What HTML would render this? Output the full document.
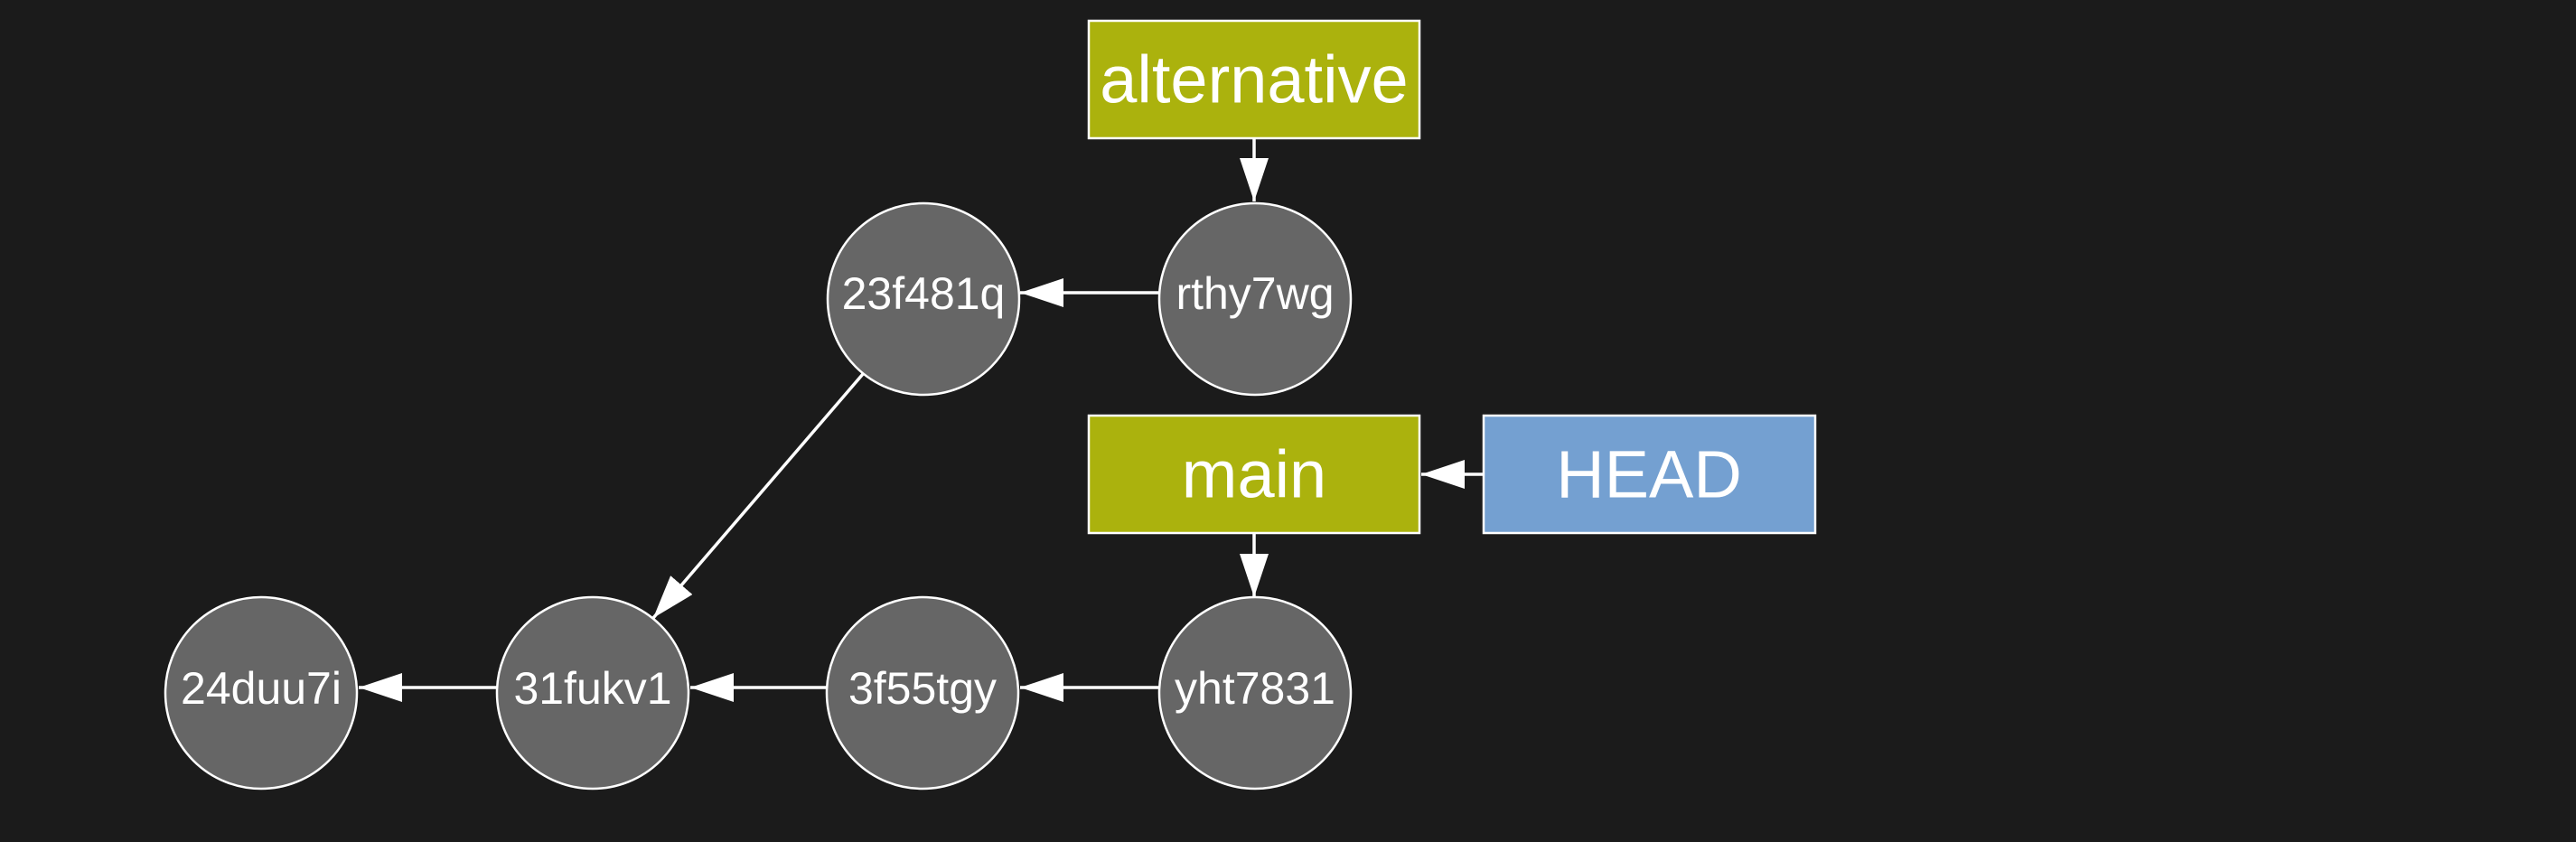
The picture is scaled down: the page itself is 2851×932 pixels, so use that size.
<!DOCTYPE html>
<html><head><meta charset="utf-8"><style>
html,body{margin:0;padding:0;background:#1b1b1b;}
svg{display:block;}
text{font-family:"Liberation Sans",Arial,sans-serif;fill:#fff;text-anchor:middle;dominant-baseline:central;}
</style></head><body>
<svg width="2851" height="932" viewBox="0 0 2851 932" xmlns="http://www.w3.org/2000/svg">
<rect width="2851" height="932" fill="#1b1b1b"/>
<defs>
<marker id="a" markerUnits="userSpaceOnUse" markerWidth="50" markerHeight="32" refX="48" refY="16" orient="auto">
<path d="M0,0 L48,16 L0,32 Z" fill="#fff"/>
</marker>
</defs>
<g stroke="#fff" stroke-width="3.5" fill="none">
<line x1="1388" y1="153" x2="1388" y2="223" marker-end="url(#a)"/>
<line x1="1388" y1="591" x2="1388" y2="661" marker-end="url(#a)"/>
<line x1="1642" y1="525" x2="1573" y2="525" marker-end="url(#a)"/>
<line x1="1283" y1="324" x2="1129" y2="324" marker-end="url(#a)"/>
<line x1="1283" y1="761" x2="1129" y2="761" marker-end="url(#a)"/>
<line x1="915" y1="761" x2="764" y2="761" marker-end="url(#a)"/>
<line x1="550" y1="761" x2="397" y2="761" marker-end="url(#a)"/>
<line x1="955" y1="414" x2="723" y2="684" marker-end="url(#a)"/>
</g>
<g fill="#666" stroke="#fff" stroke-width="2.5">
<circle cx="1389" cy="331" r="106"/>
<circle cx="1022" cy="331" r="106"/>
<circle cx="1389" cy="767" r="106"/>
<circle cx="1021" cy="767" r="106"/>
<circle cx="656" cy="767" r="106"/>
<circle cx="289" cy="767" r="106"/>
</g>
<rect x="1205" y="23" width="366" height="130" fill="#abb20d" stroke="#fff" stroke-width="2.5"/>
<rect x="1205" y="460" width="366" height="130" fill="#abb20d" stroke="#fff" stroke-width="2.5"/>
<rect x="1642" y="460" width="367" height="130" fill="#74a0d1" stroke="#fff" stroke-width="2.5"/>
<text x="1388" y="88" font-size="74">alternative</text>
<text x="1388" y="525" font-size="74">main</text>
<text x="1825" y="525" font-size="74">HEAD</text>
<g font-size="50">
<text x="1389" y="325">rthy7wg</text>
<text x="1022" y="325">23f481q</text>
<text x="1389" y="762">yht7831</text>
<text x="1021" y="762">3f55tgy</text>
<text x="656" y="762">31fukv1</text>
<text x="289" y="762">24duu7i</text>
</g>
</svg>
</body></html>
